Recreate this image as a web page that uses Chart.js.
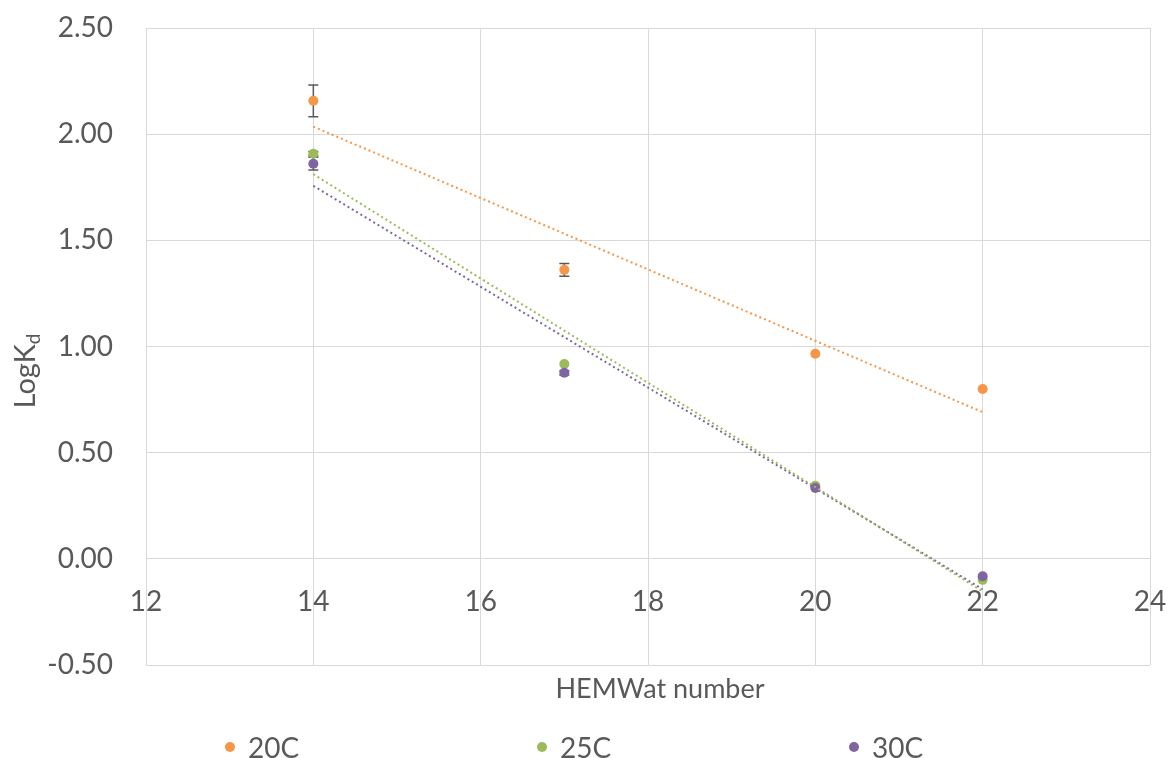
<!DOCTYPE html>
<html>
<head>
<meta charset="utf-8">
<script src="https://cdn.jsdelivr.net/npm/chart.js@4.4.1/dist/chart.umd.min.js"></script>
<style>
  html, body { margin: 0; padding: 0; background: #fff; }
  #wrap { position: relative; width: 1169px; height: 758px; }
  #legend { position: absolute; left: 225px; top: 727px; display: flex; }
  .item { width: 312px; height: 40px; display: flex; align-items: center; font-family: Lato, sans-serif; font-size: 28px; line-height: 40px; color: #595959; }
  .dot { width: 10px; height: 10px; border-radius: 50%; margin-right: 13px; }
</style>
</head>
<body>
<div id="wrap">
  <canvas id="chart" width="1169" height="758"></canvas>
  <div id="legend"></div>
</div>
<script>
// HEMWat system numbers and measured log Kd per temperature
const hemwat = [14, 17, 20, 22];
const seriesNames = ['20C', '25C', '30C'];
const seriesColors = ['#F79646', '#9BBB59', '#8064A2'];
const logKd20 = [2.157, 1.361, 0.966, 0.800];
const logKd25 = [1.908, 0.918, 0.344, -0.099];
const logKd30 = [1.861, 0.876, 0.334, -0.082];
const err20 = [0.075, 0.030, 0, 0];
const err25 = [0.010, 0, 0, 0];
const err30 = [0.030, 0.010, 0, 0];
const xTicks = [12, 14, 16, 18, 20, 22, 24];
const yTicks = [-0.5, 0, 0.5, 1.0, 1.5, 2.0, 2.5];

const values = [logKd20, logKd25, logKd30];
const errors = [err20, err25, err30];
const textColor = '#595959';
const gridColor = '#D9D9D9';
const FONT = 'Lato, sans-serif';

// least-squares line, same as a linear trendline
function linearFit(xs, ys) {
  const n = xs.length;
  const mx = xs.reduce((a, b) => a + b, 0) / n;
  const my = ys.reduce((a, b) => a + b, 0) / n;
  let sxy = 0, sxx = 0;
  xs.forEach((x, i) => { sxy += (x - mx) * (ys[i] - my); sxx += (x - mx) * (x - mx); });
  const slope = sxy / sxx;
  return x => my + slope * (x - mx);
}

// keep the plot box fixed, labels may spill into the margins
function noAutoPadding(axis) {
  axis.paddingTop = 0;
  axis.paddingBottom = 0;
  axis.paddingLeft = 0;
  axis.paddingRight = 0;
}

const pointSets = values.map((ys, s) => ({
  label: seriesNames[s],
  data: hemwat.map((x, i) => ({ x, y: ys[i] })),
  errors: errors[s],
  showLine: false,
  pointRadius: 5,
  pointHoverRadius: 5,
  pointBackgroundColor: seriesColors[s],
  pointBorderColor: seriesColors[s],
  borderWidth: 0,
  order: 3 - s
}));

const trendSets = values.map((ys, s) => {
  const f = linearFit(hemwat, ys);
  const x0 = hemwat[0], x1 = hemwat[hemwat.length - 1];
  return {
    label: seriesNames[s] + ' trend',
    data: [{ x: x0, y: f(x0) }, { x: x1, y: f(x1) }],
    showLine: true,
    pointRadius: 0,
    borderColor: seriesColors[s],
    borderWidth: 2,
    borderDash: [2, 3],
    order: 0
  };
});

// error bars under the markers
const errorBars = {
  id: 'errorBars',
  beforeDatasetsDraw(chart) {
    const { ctx, scales: { x, y } } = chart;
    ctx.save();
    ctx.strokeStyle = '#595959';
    ctx.lineWidth = 1.5;
    chart.data.datasets.forEach(ds => {
      if (!ds.errors) return;
      ds.data.forEach((p, i) => {
        const e = ds.errors[i];
        if (!e) return;
        const px = x.getPixelForValue(p.x);
        const top = y.getPixelForValue(p.y + e);
        const bot = y.getPixelForValue(p.y - e);
        ctx.beginPath();
        ctx.moveTo(px, top); ctx.lineTo(px, bot);
        ctx.moveTo(px - 5, top); ctx.lineTo(px + 5, top);
        ctx.moveTo(px - 5, bot); ctx.lineTo(px + 5, bot);
        ctx.stroke();
      });
    });
    ctx.restore();
  }
};

// axis titles (the y title needs a subscript)
const axisTitles = {
  id: 'axisTitles',
  afterDraw(chart) {
    const { ctx } = chart;
    ctx.save();
    ctx.fillStyle = textColor;
    ctx.textBaseline = 'middle';
    ctx.textAlign = 'center';
    ctx.font = '27px ' + FONT;
    ctx.fillText('HEMWat number', 660, 689);

    ctx.translate(25, 371);
    ctx.rotate(-Math.PI / 2);
    ctx.textAlign = 'left';
    ctx.textBaseline = 'alphabetic';
    const main = 'LogK', sub = 'd';
    ctx.font = '29px ' + FONT;
    const w1 = ctx.measureText(main).width;
    ctx.font = '19px ' + FONT;
    const w2 = ctx.measureText(sub).width;
    const start = -(w1 + w2) / 2;
    ctx.font = '29px ' + FONT;
    ctx.fillText(main, start, 10);
    ctx.font = '19px ' + FONT;
    ctx.fillText(sub, start + w1, 15);
    ctx.restore();
  }
};

new Chart(document.getElementById('chart'), {
  type: 'scatter',
  data: { datasets: [...pointSets, ...trendSets] },
  options: {
    responsive: false,
    animation: false,
    layout: { padding: { top: 28, right: 19, bottom: 93, left: 0 } },
    plugins: { legend: { display: false }, tooltip: { enabled: false } },
    scales: {
      x: {
        type: 'linear',
        position: { y: 0 },
        min: 12, max: 24,
        afterBuildTicks: axis => { axis.ticks = xTicks.map(v => ({ value: v })); },
        afterFit: axis => { axis.height = 0; noAutoPadding(axis); },
        grid: { color: gridColor, lineWidth: 1, drawTicks: false },
        border: { color: gridColor, width: 1 },
        ticks: { color: textColor, padding: 26, font: { family: FONT, size: 28 } }
      },
      y: {
        type: 'linear',
        min: -0.5, max: 2.5,
        afterBuildTicks: axis => { axis.ticks = yTicks.map(v => ({ value: v })); },
        afterFit: axis => { axis.width = 146; noAutoPadding(axis); },
        grid: { color: gridColor, lineWidth: 1, drawTicks: false },
        border: { color: gridColor, width: 1 },
        ticks: {
          color: textColor, padding: 33, font: { family: FONT, size: 28 },
          callback: v => v.toFixed(2)
        }
      }
    }
  },
  plugins: [errorBars, axisTitles]
});

// legend row under the plot
const legend = document.getElementById('legend');
seriesNames.forEach((name, s) => {
  const item = document.createElement('div');
  item.className = 'item';
  const dot = document.createElement('span');
  dot.className = 'dot';
  dot.style.background = seriesColors[s];
  item.appendChild(dot);
  item.appendChild(document.createTextNode(name));
  legend.appendChild(item);
});
</script>
</body>
</html>
